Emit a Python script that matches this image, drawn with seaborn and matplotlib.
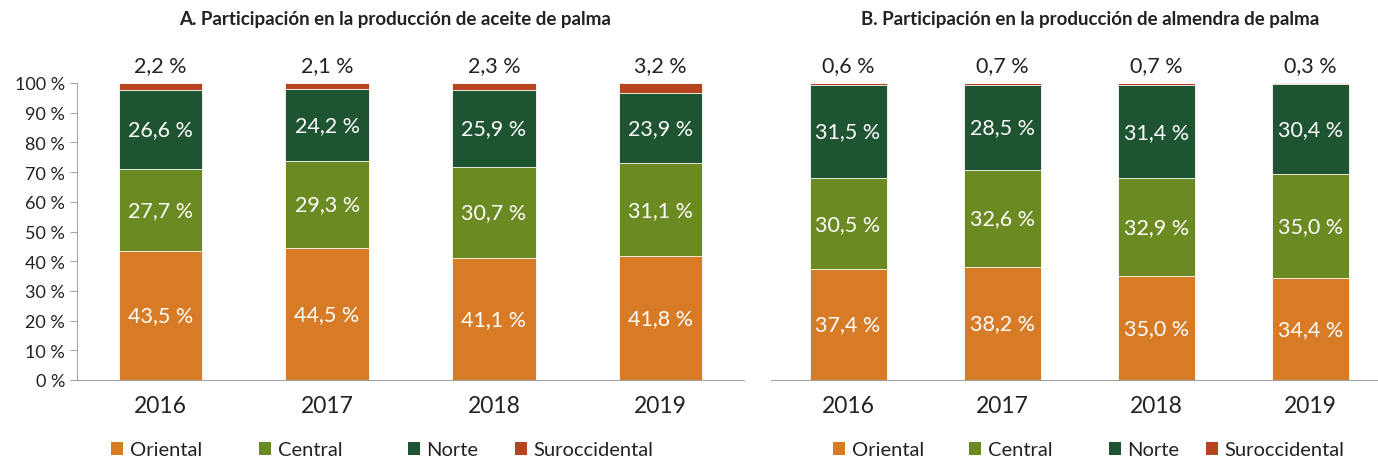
import numpy as np
import pandas as pd
import seaborn as sns
from matplotlib import pyplot as plt
from matplotlib.patches import Patch

years = ["2016", "2017", "2018", "2019"]
regions = ["Oriental", "Central", "Norte", "Suroccidental"]
colors = ["#D87B27", "#6B8A22", "#1F5433", "#B5441F"]

aceite_oriental = [43.5, 44.5, 41.1, 41.8]
aceite_central = [27.7, 29.3, 30.7, 31.1]
aceite_norte = [26.6, 24.2, 25.9, 23.9]
aceite_suroccidental = [2.2, 2.1, 2.3, 3.2]

almendra_oriental = [37.4, 38.2, 35.0, 34.4]
almendra_central = [30.5, 32.6, 32.9, 35.0]
almendra_norte = [31.5, 28.5, 31.4, 30.4]
almendra_suroccidental = [0.6, 0.7, 0.7, 0.3]

titles = [
    "A. Participación en la producción de aceite de palma",
    "B. Participación en la producción de almendra de palma",
]

sns.set_style("white")
plt.rcParams["font.family"] = ["Lato", "DejaVu Sans"]

W, H = 1378, 460


def fmt(v):
    return f"{v:.1f} %".replace(".", ",")


def stacked(ax, series, show_y):
    df = pd.DataFrame(series, index=regions, columns=years)
    cum = df.cumsum()
    # draw tallest cumulative first, then overlay the lower ones
    for i in range(len(regions) - 1, -1, -1):
        sns.barplot(x=years, y=cum.iloc[i].values, color=colors[i], width=0.5,
                    saturation=1, edgecolor="white", linewidth=0.6, ax=ax)
    for j, yr in enumerate(years):
        for i, reg in enumerate(regions[:-1]):
            mid = cum.iloc[i][yr] - df.loc[reg, yr] / 2
            ax.text(j, mid, fmt(df.loc[reg, yr]), ha="center", va="center",
                    color="white", fontsize=15.5)
        ax.text(j, 106, fmt(df.loc[regions[-1], yr]), ha="center",
                va="center", color="#222222", fontsize=15.5, clip_on=False)
    ax.set_ylim(0, 100)
    ax.set_xlabel("")
    ax.set_ylabel("")
    ax.tick_params(axis="x", length=0, labelsize=16.5, pad=11, colors="#222222")
    ax.set_xticks(np.arange(-0.5, 4, 1), minor=True)
    ax.tick_params(axis="x", which="minor", length=5, color="#a6a6a6",
                   direction="out")
    for s in ["top", "right"]:
        ax.spines[s].set_visible(False)
    ax.spines["bottom"].set_color("#a6a6a6")
    if show_y:
        ax.set_yticks(np.arange(0, 101, 10))
        ax.set_yticklabels([f"{v} %" for v in range(0, 101, 10)])
        ax.tick_params(axis="y", length=5, color="#a6a6a6", labelsize=13,
                       left=True, colors="#222222")
        ax.spines["left"].set_color("#a6a6a6")
    else:
        ax.set_yticks([])
        ax.spines["left"].set_visible(False)
    ax.set_xlim(-0.5, 3.5 if show_y else 3.44)


fig = plt.figure(figsize=(W / 100, H / 100), dpi=100)
ax_a = fig.add_axes([77 / W, 79 / H, 667 / W, 297 / H])
ax_b = fig.add_axes([771 / W, 79 / H, 607 / W, 297 / H])

stacked(ax_a, [aceite_oriental, aceite_central, aceite_norte, aceite_suroccidental], True)
stacked(ax_b, [almendra_oriental, almendra_central, almendra_norte, almendra_suroccidental], False)

fig.text(395 / W, 1 - 20 / H, titles[0], ha="center", va="center",
         fontsize=13.5, fontweight="bold", color="#222222")
fig.text(1090 / W, 1 - 20 / H, titles[1], ha="center", va="center",
         fontsize=13.5, fontweight="bold", color="#222222")

# legend entries placed individually, like the spreadsheet legend
legend_x = {"A": [111, 259, 408, 515], "B": [833, 969, 1109, 1206]}
for key in ["A", "B"]:
    for reg, col, x in zip(regions, colors, legend_x[key]):
        fig.legend(handles=[Patch(facecolor=col, edgecolor="none", label=reg)],
                   loc="center left", bbox_to_anchor=(x / W, 1 - 451 / H),
                   frameon=False, fontsize=14.5, handlelength=0.62,
                   handleheight=0.62, handletextpad=0.3, borderpad=0,
                   borderaxespad=0, labelcolor="#222222")

fig.savefig("out.png", dpi=100)
